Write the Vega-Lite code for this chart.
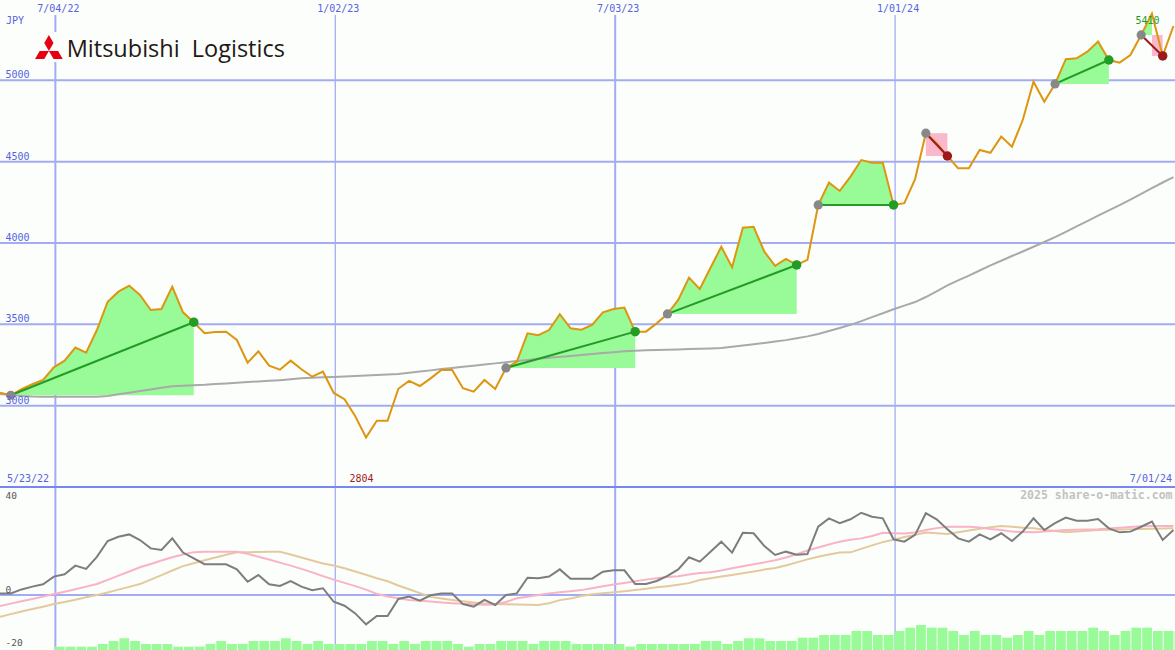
{
"$schema": "https://vega.github.io/schema/vega-lite/v6.json",
"background": "#fcfefc",
"padding": {"left": -4, "top": 0, "right": 0, "bottom": 0},
"spacing": 0,
"bounds": "flush",
"config": {"view": {"stroke": null}, "axis": {"disable": true}, "text": {"font": "DejaVu Sans Mono", "fontSize": 10}, "mark": {"clip": true}},
"datasets": {
"w": [
{"d":"2022-05-29","p":3080,"ma":3072,"o":0.7,"s1":-4.7,"s2":-9.3,"v":null},
{"d":"2022-06-05","p":3064,"ma":3065,"o":0.7,"s1":-3.7,"s2":-8.2,"v":null},
{"d":"2022-06-12","p":3101,"ma":3060,"o":2.4,"s1":-2.7,"s2":-7.1,"v":null},
{"d":"2022-06-19","p":3132,"ma":3056,"o":3.6,"s1":-1.7,"s2":-6.0,"v":null},
{"d":"2022-06-26","p":3158,"ma":3055,"o":4.6,"s1":-0.7,"s2":-5.0,"v":null},
{"d":"2022-07-03","p":3236,"ma":3055,"o":7.9,"s1":0.4,"s2":-3.9,"v":3.3},
{"d":"2022-07-10","p":3277,"ma":3055,"o":8.9,"s1":1.4,"s2":-3.0,"v":3.3},
{"d":"2022-07-17","p":3357,"ma":3055,"o":12.6,"s1":2.5,"s2":-2.0,"v":3.3},
{"d":"2022-07-24","p":3326,"ma":3055,"o":11.2,"s1":3.6,"s2":-1.0,"v":3.3},
{"d":"2022-07-31","p":3465,"ma":3055,"o":16.4,"s1":4.7,"s2":0.0,"v":6},
{"d":"2022-08-07","p":3639,"ma":3060,"o":23.2,"s1":6.5,"s2":1.1,"v":9},
{"d":"2022-08-14","p":3701,"ma":3070,"o":25.0,"s1":8.3,"s2":2.3,"v":11.7},
{"d":"2022-08-21","p":3738,"ma":3080,"o":26.0,"s1":10.1,"s2":3.5,"v":9},
{"d":"2022-08-28","p":3681,"ma":3090,"o":23.6,"s1":11.9,"s2":4.7,"v":6},
{"d":"2022-09-04","p":3588,"ma":3100,"o":20.0,"s1":13.3,"s2":6.6,"v":6},
{"d":"2022-09-11","p":3594,"ma":3110,"o":19.3,"s1":14.8,"s2":8.5,"v":6},
{"d":"2022-09-18","p":3732,"ma":3119,"o":24.3,"s1":16.2,"s2":10.5,"v":3.3},
{"d":"2022-09-25","p":3574,"ma":3122,"o":18.2,"s1":17.4,"s2":12.4,"v":3.3},
{"d":"2022-10-02","p":3513,"ma":3125,"o":15.7,"s1":18.4,"s2":13.6,"v":3.3},
{"d":"2022-10-09","p":3445,"ma":3128,"o":13.2,"s1":18.6,"s2":14.9,"v":6},
{"d":"2022-10-16","p":3453,"ma":3133,"o":13.2,"s1":18.6,"s2":16.1,"v":9},
{"d":"2022-10-23","p":3455,"ma":3137,"o":13.2,"s1":18.6,"s2":17.3,"v":6},
{"d":"2022-10-30","p":3404,"ma":3141,"o":11.0,"s1":18.6,"s2":18.3,"v":6},
{"d":"2022-11-06","p":3264,"ma":3145,"o":5.7,"s1":17.7,"s2":18.4,"v":9},
{"d":"2022-11-13","p":3334,"ma":3149,"o":8.6,"s1":16.4,"s2":18.5,"v":9},
{"d":"2022-11-20","p":3246,"ma":3153,"o":4.6,"s1":15.2,"s2":18.6,"v":9},
{"d":"2022-11-27","p":3221,"ma":3157,"o":3.9,"s1":13.9,"s2":18.6,"v":11.7},
{"d":"2022-12-04","p":3277,"ma":3162,"o":6.0,"s1":12.6,"s2":17.4,"v":9},
{"d":"2022-12-11","p":3224,"ma":3168,"o":3.6,"s1":11.2,"s2":16.1,"v":6},
{"d":"2022-12-18","p":3178,"ma":3171,"o":2.1,"s1":9.7,"s2":14.8,"v":9},
{"d":"2022-12-25","p":3209,"ma":3174,"o":2.9,"s1":8.1,"s2":13.5,"v":6},
{"d":"2023-01-01","p":3078,"ma":3177,"o":-2.9,"s1":6.6,"s2":12.7,"v":6},
{"d":"2023-01-08","p":3040,"ma":3180,"o":-4.6,"s1":5.2,"s2":11.5,"v":6},
{"d":"2023-01-15","p":2935,"ma":3183,"o":-7.9,"s1":3.8,"s2":10.1,"v":6},
{"d":"2023-01-22","p":2804,"ma":3186,"o":-12.6,"s1":2.3,"s2":8.7,"v":9},
{"d":"2023-01-29","p":2907,"ma":3189,"o":-9.0,"s1":0.5,"s2":7.2,"v":9},
{"d":"2023-02-05","p":2907,"ma":3192,"o":-9.0,"s1":-0.6,"s2":5.9,"v":6},
{"d":"2023-02-12","p":3104,"ma":3195,"o":-1.7,"s1":-1.4,"s2":4.1,"v":9},
{"d":"2023-02-19","p":3152,"ma":3203,"o":-0.7,"s1":-2.1,"s2":2.5,"v":6},
{"d":"2023-02-26","p":3121,"ma":3210,"o":-2.4,"s1":-2.5,"s2":0.8,"v":9},
{"d":"2023-03-05","p":3168,"ma":3217,"o":-0.1,"s1":-2.8,"s2":-0.8,"v":9},
{"d":"2023-03-12","p":3219,"ma":3225,"o":0.6,"s1":-3.2,"s2":-1.5,"v":9},
{"d":"2023-03-19","p":3219,"ma":3232,"o":0.6,"s1":-3.5,"s2":-2.1,"v":6},
{"d":"2023-03-26","p":3107,"ma":3239,"o":-3.9,"s1":-3.8,"s2":-2.7,"v":3.3},
{"d":"2023-04-02","p":3086,"ma":3246,"o":-5.0,"s1":-4.0,"s2":-3.2,"v":6},
{"d":"2023-04-09","p":3158,"ma":3253,"o":-2.1,"s1":-4.2,"s2":-3.6,"v":6},
{"d":"2023-04-16","p":3103,"ma":3260,"o":-4.3,"s1":-4.1,"s2":-3.9,"v":9},
{"d":"2023-04-23","p":3232,"ma":3267,"o":0.0,"s1":-3.0,"s2":-4.0,"v":9},
{"d":"2023-04-30","p":3270,"ma":3274,"o":0.7,"s1":-1.4,"s2":-4.1,"v":9},
{"d":"2023-05-07","p":3445,"ma":3281,"o":7.4,"s1":-0.7,"s2":-4.2,"v":6},
{"d":"2023-05-14","p":3433,"ma":3288,"o":7.2,"s1":0.0,"s2":-4.3,"v":9},
{"d":"2023-05-21","p":3465,"ma":3294,"o":7.9,"s1":0.7,"s2":-3.5,"v":9},
{"d":"2023-05-28","p":3562,"ma":3300,"o":11.0,"s1":1.2,"s2":-2.2,"v":9},
{"d":"2023-06-04","p":3476,"ma":3306,"o":7.0,"s1":1.6,"s2":-1.5,"v":6},
{"d":"2023-06-11","p":3467,"ma":3312,"o":7.0,"s1":2.1,"s2":-0.4,"v":6},
{"d":"2023-06-18","p":3496,"ma":3318,"o":7.0,"s1":2.9,"s2":0.3,"v":6},
{"d":"2023-06-25","p":3574,"ma":3324,"o":10.0,"s1":3.8,"s2":0.8,"v":6},
{"d":"2023-07-02","p":3594,"ma":3329,"o":10.6,"s1":4.5,"s2":1.2,"v":6},
{"d":"2023-07-09","p":3603,"ma":3334,"o":10.6,"s1":5.2,"s2":1.6,"v":3.3},
{"d":"2023-07-16","p":3455,"ma":3338,"o":4.7,"s1":5.9,"s2":2.1,"v":6},
{"d":"2023-07-23","p":3455,"ma":3340,"o":4.7,"s1":6.6,"s2":2.7,"v":6},
{"d":"2023-07-30","p":3506,"ma":3342,"o":6.0,"s1":7.2,"s2":3.3,"v":6},
{"d":"2023-08-06","p":3564,"ma":3344,"o":8.2,"s1":7.7,"s2":3.8,"v":6},
{"d":"2023-08-13","p":3650,"ma":3346,"o":11.0,"s1":8.1,"s2":4.4,"v":6},
{"d":"2023-08-20","p":3787,"ma":3348,"o":16.2,"s1":8.8,"s2":5.1,"v":6},
{"d":"2023-08-27","p":3717,"ma":3350,"o":14.3,"s1":9.4,"s2":6.4,"v":9},
{"d":"2023-09-03","p":3848,"ma":3352,"o":18.6,"s1":9.8,"s2":7.2,"v":9},
{"d":"2023-09-10","p":3977,"ma":3355,"o":22.9,"s1":10.5,"s2":7.9,"v":6},
{"d":"2023-09-17","p":3851,"ma":3362,"o":18.2,"s1":11.5,"s2":8.6,"v":9},
{"d":"2023-09-24","p":4094,"ma":3370,"o":26.7,"s1":12.3,"s2":9.3,"v":11.7},
{"d":"2023-10-01","p":4100,"ma":3378,"o":26.5,"s1":13.2,"s2":10.1,"v":11.7},
{"d":"2023-10-08","p":3947,"ma":3386,"o":21.0,"s1":14.0,"s2":10.9,"v":9},
{"d":"2023-10-15","p":3859,"ma":3394,"o":17.2,"s1":14.9,"s2":11.6,"v":9},
{"d":"2023-10-22","p":3902,"ma":3403,"o":18.6,"s1":16.1,"s2":12.7,"v":9},
{"d":"2023-10-29","p":3865,"ma":3414,"o":17.3,"s1":17.5,"s2":14.0,"v":12.3},
{"d":"2023-11-05","p":3896,"ma":3426,"o":17.6,"s1":19.1,"s2":15.3,"v":12.3},
{"d":"2023-11-12","p":4234,"ma":3441,"o":29.3,"s1":20.4,"s2":16.4,"v":15},
{"d":"2023-11-19","p":4371,"ma":3459,"o":32.9,"s1":21.7,"s2":17.4,"v":15},
{"d":"2023-11-26","p":4320,"ma":3478,"o":30.8,"s1":22.9,"s2":18.2,"v":15},
{"d":"2023-12-03","p":4408,"ma":3497,"o":32.5,"s1":23.7,"s2":18.3,"v":19},
{"d":"2023-12-10","p":4510,"ma":3520,"o":35.3,"s1":24.3,"s2":19.8,"v":19},
{"d":"2023-12-17","p":4494,"ma":3544,"o":33.6,"s1":25.3,"s2":21.3,"v":15},
{"d":"2023-12-24","p":4494,"ma":3568,"o":32.9,"s1":26.7,"s2":22.7,"v":15},
{"d":"2023-12-31","p":4234,"ma":3593,"o":23.9,"s1":26.5,"s2":23.7,"v":19},
{"d":"2024-01-07","p":4245,"ma":3615,"o":22.9,"s1":26.4,"s2":24.9,"v":22.3},
{"d":"2024-01-14","p":4393,"ma":3637,"o":25.8,"s1":26.8,"s2":25.8,"v":25},
{"d":"2024-01-21","p":4675,"ma":3668,"o":35.1,"s1":27.9,"s2":26.8,"v":22.3},
{"d":"2024-01-28","p":4613,"ma":3703,"o":32.5,"s1":28.7,"s2":26.5,"v":22.3},
{"d":"2024-02-04","p":4535,"ma":3739,"o":28.2,"s1":29.3,"s2":26.2,"v":19},
{"d":"2024-02-11","p":4459,"ma":3770,"o":24.3,"s1":29.3,"s2":26.9,"v":15},
{"d":"2024-02-18","p":4459,"ma":3800,"o":22.9,"s1":29.3,"s2":27.7,"v":19},
{"d":"2024-02-25","p":4572,"ma":3831,"o":26.0,"s1":29.0,"s2":28.4,"v":15},
{"d":"2024-03-03","p":4555,"ma":3862,"o":23.9,"s1":28.3,"s2":29.1,"v":15},
{"d":"2024-03-10","p":4654,"ma":3891,"o":26.5,"s1":27.9,"s2":29.6,"v":12.3},
{"d":"2024-03-17","p":4592,"ma":3920,"o":23.2,"s1":27.2,"s2":29.3,"v":15},
{"d":"2024-03-24","p":4756,"ma":3948,"o":27.2,"s1":27.0,"s2":28.9,"v":19},
{"d":"2024-03-31","p":4992,"ma":3977,"o":32.9,"s1":26.9,"s2":28.6,"v":15},
{"d":"2024-04-07","p":4869,"ma":4006,"o":27.9,"s1":27.2,"s2":28.0,"v":19},
{"d":"2024-04-14","p":4978,"ma":4036,"o":30.8,"s1":27.6,"s2":27.5,"v":19},
{"d":"2024-04-21","p":5130,"ma":4069,"o":33.2,"s1":27.9,"s2":26.9,"v":19},
{"d":"2024-04-28","p":5136,"ma":4102,"o":31.9,"s1":28.0,"s2":27.2,"v":19},
{"d":"2024-05-05","p":5176,"ma":4135,"o":31.9,"s1":28.1,"s2":27.6,"v":22.3},
{"d":"2024-05-12","p":5238,"ma":4168,"o":32.6,"s1":28.2,"s2":27.9,"v":19},
{"d":"2024-05-19","p":5125,"ma":4201,"o":28.6,"s1":28.5,"s2":28.0,"v":15},
{"d":"2024-05-26","p":5109,"ma":4233,"o":26.9,"s1":28.9,"s2":28.1,"v":19},
{"d":"2024-06-02","p":5156,"ma":4267,"o":27.2,"s1":29.2,"s2":28.2,"v":22.3},
{"d":"2024-06-09","p":5279,"ma":4302,"o":29.3,"s1":29.5,"s2":28.3,"v":22.3},
{"d":"2024-06-16","p":5410,"ma":4337,"o":31.5,"s1":29.6,"s2":28.4,"v":19},
{"d":"2024-06-23","p":5150,"ma":4372,"o":23.6,"s1":29.6,"s2":28.5,"v":19},
{"d":"2024-06-30","p":5334,"ma":4405,"o":27.9,"s1":29.6,"s2":28.6,"v":19}
],
"fill": [
{"t":1,"d":"2022-06-05","p":3064,"b":3064},{"t":1,"d":"2022-06-12","p":3101,"b":3064},{"t":1,"d":"2022-06-19","p":3132,"b":3064},{"t":1,"d":"2022-06-26","p":3158,"b":3064},{"t":1,"d":"2022-07-03","p":3236,"b":3064},{"t":1,"d":"2022-07-10","p":3277,"b":3064},{"t":1,"d":"2022-07-17","p":3357,"b":3064},{"t":1,"d":"2022-07-24","p":3326,"b":3064},{"t":1,"d":"2022-07-31","p":3465,"b":3064},{"t":1,"d":"2022-08-07","p":3639,"b":3064},{"t":1,"d":"2022-08-14","p":3701,"b":3064},{"t":1,"d":"2022-08-21","p":3738,"b":3064},{"t":1,"d":"2022-08-28","p":3681,"b":3064},{"t":1,"d":"2022-09-04","p":3588,"b":3064},{"t":1,"d":"2022-09-11","p":3594,"b":3064},{"t":1,"d":"2022-09-18","p":3732,"b":3064},{"t":1,"d":"2022-09-25","p":3574,"b":3064},{"t":1,"d":"2022-10-02","p":3513,"b":3064},
{"t":2,"d":"2023-04-23","p":3232,"b":3232},{"t":2,"d":"2023-04-30","p":3270,"b":3232},{"t":2,"d":"2023-05-07","p":3445,"b":3232},{"t":2,"d":"2023-05-14","p":3433,"b":3232},{"t":2,"d":"2023-05-21","p":3465,"b":3232},{"t":2,"d":"2023-05-28","p":3562,"b":3232},{"t":2,"d":"2023-06-04","p":3476,"b":3232},{"t":2,"d":"2023-06-11","p":3467,"b":3232},{"t":2,"d":"2023-06-18","p":3496,"b":3232},{"t":2,"d":"2023-06-25","p":3574,"b":3232},{"t":2,"d":"2023-07-02","p":3594,"b":3232},{"t":2,"d":"2023-07-09","p":3603,"b":3232},{"t":2,"d":"2023-07-16","p":3455,"b":3232},
{"t":3,"d":"2023-08-06","p":3564,"b":3564},{"t":3,"d":"2023-08-13","p":3650,"b":3564},{"t":3,"d":"2023-08-20","p":3787,"b":3564},{"t":3,"d":"2023-08-27","p":3717,"b":3564},{"t":3,"d":"2023-09-03","p":3848,"b":3564},{"t":3,"d":"2023-09-10","p":3977,"b":3564},{"t":3,"d":"2023-09-17","p":3851,"b":3564},{"t":3,"d":"2023-09-24","p":4094,"b":3564},{"t":3,"d":"2023-10-01","p":4100,"b":3564},{"t":3,"d":"2023-10-08","p":3947,"b":3564},{"t":3,"d":"2023-10-15","p":3859,"b":3564},{"t":3,"d":"2023-10-22","p":3902,"b":3564},{"t":3,"d":"2023-10-29","p":3865,"b":3564},
{"t":4,"d":"2023-11-12","p":4234,"b":4234},{"t":4,"d":"2023-11-19","p":4371,"b":4234},{"t":4,"d":"2023-11-26","p":4320,"b":4234},{"t":4,"d":"2023-12-03","p":4408,"b":4234},{"t":4,"d":"2023-12-10","p":4510,"b":4234},{"t":4,"d":"2023-12-17","p":4494,"b":4234},{"t":4,"d":"2023-12-24","p":4494,"b":4234},{"t":4,"d":"2023-12-31","p":4234,"b":4234},
{"t":6,"d":"2024-04-14","p":4978,"b":4978},{"t":6,"d":"2024-04-21","p":5130,"b":4978},{"t":6,"d":"2024-04-28","p":5136,"b":4978},{"t":6,"d":"2024-05-05","p":5176,"b":4978},{"t":6,"d":"2024-05-12","p":5238,"b":4978},{"t":6,"d":"2024-05-19","p":5125,"b":4978},
{"t":7,"d":"2024-06-09","p":5279,"b":5279},{"t":7,"d":"2024-06-16","p":5410,"b":5279}
],
"loss": [
{"d":"2024-01-21","d2":"2024-02-04","p":4675,"p2":4535},
{"d":"2024-06-16","d2":"2024-06-23","p":5279,"p2":5150}
],
"trades": [
{"sd":"2022-06-05","sp":3064,"ed":"2022-10-02","ep":3513,"r":"win"},
{"sd":"2023-04-23","sp":3232,"ed":"2023-07-16","ep":3455,"r":"win"},
{"sd":"2023-08-06","sp":3564,"ed":"2023-10-29","ep":3865,"r":"win"},
{"sd":"2023-11-12","sp":4234,"ed":"2023-12-31","ep":4234,"r":"win"},
{"sd":"2024-01-21","sp":4675,"ed":"2024-02-04","ep":4535,"r":"loss"},
{"sd":"2024-04-14","sp":4978,"ed":"2024-05-19","ep":5125,"r":"win"},
{"sd":"2024-06-09","sp":5279,"ed":"2024-06-23","ep":5150,"r":"loss"}
],
"xt": [
{"d":"2022-07-04","lab":"7/04/22","k":"a"},
{"d":"2023-01-02","lab":"1/02/23","k":"b"},
{"d":"2023-07-03","lab":"7/03/23","k":"a"},
{"d":"2024-01-01","lab":"1/01/24","k":"b"}
]
},
"vconcat": [
{
"width": 1175, "height": 487,
"layer": [
{"data": {"values": [{"y":3000},{"y":3500},{"y":4000},{"y":4500},{"y":5000}]},
 "mark": {"type": "rule", "color": "#a3acf2", "strokeWidth": 2},
 "encoding": {"y": {"field": "y", "type": "quantitative", "scale": {"domain": [2500, 5494], "nice": false, "zero": false}, "axis": null}}},
{"data": {"name": "xt"}, "transform": [{"filter": "datum.k == 'a'"}],
 "mark": {"type": "rule", "color": "#a3acf2", "strokeWidth": 2},
 "encoding": {"x": {"field": "d", "type": "temporal", "scale": {"type": "utc", "domain": [1653782400000, 1719792000000], "nice": false}, "axis": null},
  "y": {"datum": 5402, "type": "quantitative", "scale": {"domain": [2500, 5494], "nice": false, "zero": false}, "axis": null}, "y2": {"datum": 2500}}},
{"data": {"name": "xt"}, "transform": [{"filter": "datum.k == 'b'"}],
 "mark": {"type": "rule", "color": "#a3acf2", "strokeWidth": 1.3},
 "encoding": {"x": {"field": "d", "type": "temporal", "scale": {"type": "utc", "domain": [1653782400000, 1719792000000], "nice": false}, "axis": null},
  "y": {"datum": 5402, "type": "quantitative", "scale": {"domain": [2500, 5494], "nice": false, "zero": false}, "axis": null}, "y2": {"datum": 2500}}},
{"data": {"values": [{}]},
 "mark": {"type": "rect", "color": "#fcfefc"},
 "encoding": {"x": {"datum": {"year": 2022, "month": "jun", "date": 19, "utc": true}, "type": "temporal"}, "x2": {"datum": {"year": 2022, "month": "dec", "date": 3, "utc": true}},
  "y": {"datum": 5297, "type": "quantitative"}, "y2": {"datum": 5113}}},
{"data": {"name": "fill"},
 "mark": {"type": "area", "color": "#98fb98", "opacity": 1},
 "encoding": {"x": {"field": "d", "type": "temporal"}, "y": {"field": "p", "type": "quantitative"}, "y2": {"field": "b"}, "detail": {"field": "t", "type": "nominal"}}},
{"data": {"name": "loss"},
 "mark": {"type": "rect", "color": "#f9b8cb"},
 "encoding": {"x": {"field": "d", "type": "temporal"}, "x2": {"field": "d2"}, "y": {"field": "p", "type": "quantitative"}, "y2": {"field": "p2"}}},
{"data": {"name": "w"},
 "mark": {"type": "line", "color": "#a9a9a9", "strokeWidth": 2},
 "encoding": {"x": {"field": "d", "type": "temporal"}, "y": {"field": "ma", "type": "quantitative"}}},
{"data": {"name": "w"},
 "mark": {"type": "line", "color": "#de9510", "strokeWidth": 2},
 "encoding": {"x": {"field": "d", "type": "temporal"}, "y": {"field": "p", "type": "quantitative"}}},
{"data": {"name": "trades"},
 "mark": {"type": "rule", "strokeWidth": 2},
 "encoding": {"x": {"field": "sd", "type": "temporal"}, "x2": {"field": "ed"}, "y": {"field": "sp", "type": "quantitative"}, "y2": {"field": "ep"},
  "color": {"field": "r", "type": "nominal", "scale": {"domain": ["win", "loss"], "range": ["#249b24", "#9e1a1a"]}, "legend": null}}},
{"data": {"name": "trades"},
 "mark": {"type": "circle", "color": "#888888", "opacity": 1, "size": 85},
 "encoding": {"x": {"field": "sd", "type": "temporal"}, "y": {"field": "sp", "type": "quantitative"}}},
{"data": {"name": "trades"},
 "mark": {"type": "circle", "opacity": 1, "size": 90},
 "encoding": {"x": {"field": "ed", "type": "temporal"}, "y": {"field": "ep", "type": "quantitative"},
  "color": {"field": "r", "type": "nominal", "scale": {"domain": ["win", "loss"], "range": ["#249b24", "#b41c1c"]}, "legend": null}}},
{"data": {"name": "xt"},
 "mark": {"type": "text", "color": "#5563e0", "baseline": "middle", "align": "center", "dx": 3, "dy": 8.5},
 "encoding": {"x": {"field": "d", "type": "temporal"}, "y": {"datum": 5494, "type": "quantitative"}, "text": {"field": "lab"}}},
{"data": {"values": [{"y":3000},{"y":3500},{"y":4000},{"y":4500},{"y":5000}]},
 "mark": {"type": "text", "color": "#5563e0", "baseline": "alphabetic", "align": "left", "dx": 5.5, "dy": -2},
 "encoding": {"x": {"datum": {"year": 2022, "month": "may", "date": 29, "utc": true}, "type": "temporal"}, "y": {"field": "y", "type": "quantitative"}, "text": {"field": "y", "type": "quantitative", "format": "d"}}},
{"data": {"values": [{}]},
 "mark": {"type": "text", "color": "#5563e0", "baseline": "middle", "align": "left", "dx": 6, "dy": 21, "text": "JPY"},
 "encoding": {"x": {"datum": {"year": 2022, "month": "may", "date": 29, "utc": true}, "type": "temporal"}, "y": {"datum": 5494, "type": "quantitative"}}},
{"data": {"values": [{}]},
 "mark": {"type": "text", "color": "#5563e0", "baseline": "middle", "align": "left", "dx": 7, "dy": -8, "text": "5/23/22"},
 "encoding": {"x": {"datum": {"year": 2022, "month": "may", "date": 29, "utc": true}, "type": "temporal"}, "y": {"datum": 2500, "type": "quantitative"}}},
{"data": {"values": [{}]},
 "mark": {"type": "text", "color": "#5563e0", "baseline": "middle", "align": "right", "dx": -3, "dy": -8, "text": "7/01/24"},
 "encoding": {"x": {"datum": {"year": 2024, "month": "jul", "date": 1, "utc": true}, "type": "temporal"}, "y": {"datum": 2500, "type": "quantitative"}}},
{"data": {"values": [{}]},
 "mark": {"type": "text", "color": "#a01c1c", "baseline": "middle", "align": "center", "dx": -4.5, "dy": -8.5, "text": "2804"},
 "encoding": {"x": {"datum": {"year": 2023, "month": "jan", "date": 22, "utc": true}, "type": "temporal"}, "y": {"datum": 2500, "type": "quantitative"}}},
{"data": {"values": [{}]},
 "mark": {"type": "text", "color": "#229a22", "baseline": "middle", "align": "center", "dx": -4.5, "dy": 7.2, "text": "5410"},
 "encoding": {"x": {"datum": {"year": 2024, "month": "jun", "date": 16, "utc": true}, "type": "temporal"}, "y": {"datum": 5410, "type": "quantitative"}}},
{"data": {"values": [{}]},
 "mark": {"type": "point", "shape": "M0,0.2887L-0.3333,-0.2887L0,-0.866L0.3333,-0.2887Z M0,0.2887L0.6667,0.2887L1,0.866L0.3333,0.866Z M0,0.2887L-0.6667,0.2887L-1,0.866L-0.3333,0.866Z", "filled": true, "color": "#e60012", "opacity": 1, "size": 767, "strokeWidth": 0},
 "encoding": {"x": {"datum": {"year": 2022, "month": "jun", "date": 29, "hours": 19, "utc": true}, "type": "temporal"}, "y": {"datum": 5205, "type": "quantitative"}}},
{"data": {"values": [{}]},
 "mark": {"type": "text", "font": "Open Sans", "fontSize": 23.5, "color": "#231815", "baseline": "alphabetic", "align": "left", "text": "Mitsubishi\u00a0 Logistics"},
 "encoding": {"x": {"datum": {"year": 2022, "month": "jul", "date": 11, "hours": 9, "utc": true}, "type": "temporal"}, "y": {"datum": 5145, "type": "quantitative"}}}
]
},
{
"width": 1175, "height": 163,
"resolve": {"scale": {"y": "independent"}},
"layer": [
{"data": {"values": [{}]},
 "mark": {"type": "rule", "color": "#a3acf2", "strokeWidth": 2},
 "encoding": {"y": {"datum": 0, "type": "quantitative", "scale": {"domain": [-23.6, 46.35], "nice": false, "zero": false}, "axis": null}}},
{"data": {"name": "xt"}, "transform": [{"filter": "datum.k == 'a'"}],
 "mark": {"type": "rule", "color": "#a3acf2", "strokeWidth": 2},
 "encoding": {"x": {"field": "d", "type": "temporal", "scale": {"type": "utc", "domain": [1653782400000, 1719792000000], "nice": false}, "axis": null}}},
{"data": {"name": "xt"}, "transform": [{"filter": "datum.k == 'b'"}],
 "mark": {"type": "rule", "color": "#a3acf2", "strokeWidth": 1.3},
 "encoding": {"x": {"field": "d", "type": "temporal", "scale": {"type": "utc", "domain": [1653782400000, 1719792000000], "nice": false}, "axis": null}}},
{"data": {"name": "w"},
 "mark": {"type": "bar", "color": "#98fb98"},
 "encoding": {"x": {"field": "d", "timeUnit": "utcyearweek", "type": "temporal", "axis": null},
  "y": {"field": "v", "type": "quantitative", "scale": {"domain": [0, 163], "nice": false}, "axis": null}}},
{"data": {"name": "w"},
 "mark": {"type": "line", "color": "#e3ca9c", "strokeWidth": 2},
 "encoding": {"x": {"field": "d", "type": "temporal"}, "y": {"field": "s2", "type": "quantitative", "scale": {"domain": [-23.6, 46.35], "nice": false, "zero": false}, "axis": null}}},
{"data": {"name": "w"},
 "mark": {"type": "line", "color": "#f9b3c5", "strokeWidth": 2},
 "encoding": {"x": {"field": "d", "type": "temporal"}, "y": {"field": "s1", "type": "quantitative", "scale": {"domain": [-23.6, 46.35], "nice": false, "zero": false}, "axis": null}}},
{"data": {"name": "w"},
 "mark": {"type": "line", "color": "#7d7d7d", "strokeWidth": 2},
 "encoding": {"x": {"field": "d", "type": "temporal"}, "y": {"field": "o", "type": "quantitative", "scale": {"domain": [-23.6, 46.35], "nice": false, "zero": false}, "axis": null}}},
{"data": {"values": [{"y": 40}, {"y": 0}]},
 "mark": {"type": "text", "color": "#555555", "fontSize": 9.5, "baseline": "alphabetic", "align": "left", "dx": 5.5, "dy": -2.3},
 "encoding": {"x": {"datum": {"year": 2022, "month": "may", "date": 29, "utc": true}, "type": "temporal"}, "y": {"field": "y", "type": "quantitative", "scale": {"domain": [-23.6, 46.35], "nice": false, "zero": false}, "axis": null}, "text": {"field": "y", "type": "quantitative", "format": "d"}}},
{"data": {"values": [{}]},
 "mark": {"type": "text", "color": "#555555", "fontSize": 9.5, "baseline": "alphabetic", "align": "left", "dx": 5.5, "dy": 4.2, "text": "-20"},
 "encoding": {"x": {"datum": {"year": 2022, "month": "may", "date": 29, "utc": true}, "type": "temporal"}, "y": {"datum": -20, "type": "quantitative", "scale": {"domain": [-23.6, 46.35], "nice": false, "zero": false}, "axis": null}}},
{"data": {"values": [{}]},
 "mark": {"type": "text", "color": "#c2c2c2", "font": "DejaVu Sans Mono", "fontWeight": "bold", "fontSize": 11.5, "baseline": "middle", "align": "right", "dx": -2.5, "dy": 9.2, "text": "2025 share-o-matic.com"},
 "encoding": {"x": {"datum": {"year": 2024, "month": "jul", "date": 1, "utc": true}, "type": "temporal"}, "y": {"datum": 46.35, "type": "quantitative", "scale": {"domain": [-23.6, 46.35], "nice": false, "zero": false}, "axis": null}}},
{"data": {"values": [{}]},
 "mark": {"type": "rule", "color": "#7887f0", "strokeWidth": 2, "clip": false},
 "encoding": {"y": {"datum": 46.35, "type": "quantitative", "scale": {"domain": [-23.6, 46.35], "nice": false, "zero": false}, "axis": null}}}
]
}
]
}
